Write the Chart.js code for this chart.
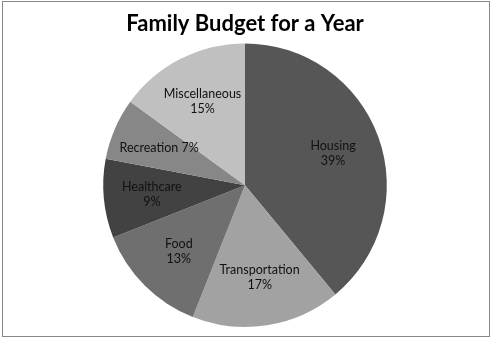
<!DOCTYPE html>
<html>
<head>
<meta charset="utf-8">
<script src="https://cdn.jsdelivr.net/npm/chart.js@4.4.0/dist/chart.umd.min.js"></script>
<style>
  body { margin: 0; background: #fff; }
  #frame { position: absolute; left: 2px; top: 1px; width: 486px; height: 334px; border: 1px solid #888; }
  #wrap { position: absolute; left: 0; top: 0; width: 492px; height: 339px; }
</style>
</head>
<body>
<div id="frame"></div>
<div id="wrap"><canvas id="chart" width="492" height="339"></canvas></div>
<script>
// budget shares, clockwise from 12 o'clock
const categories = ['Housing', 'Transportation', 'Food', 'Healthcare', 'Recreation', 'Miscellaneous'];
const shares = [39, 17, 13, 9, 7, 15];
const sliceColors = ['#565656', '#a2a2a2', '#6f6f6f', '#424242', '#878787', '#c0c0c0'];

// draws "Name\nNN%" labels inside each slice
const sliceLabels = {
  id: 'sliceLabels',
  afterDatasetsDraw(chart) {
    const ctx = chart.ctx;
    const meta = chart.getDatasetMeta(0);
    ctx.save();
    ctx.font = '12.5px Lato, "Open Sans", sans-serif';
    ctx.fillStyle = '#111';
    ctx.textAlign = 'center';
    ctx.textBaseline = 'middle';
    meta.data.forEach((arc, i) => {
      const mid = (arc.startAngle + arc.endAngle) / 2;
      const r = arc.outerRadius * 0.66;
      const x = arc.x + Math.cos(mid) * r;
      const y = arc.y + Math.sin(mid) * r;
      const pct = shares[i] + '%';
      if (shares[i] < 8) {
        ctx.fillText(categories[i] + ' ' + pct, x, y);
      } else {
        ctx.fillText(categories[i], x, y - 7.5);
        ctx.fillText(pct, x, y + 7.5);
      }
    });
    ctx.restore();
  }
};

new Chart(document.getElementById('chart'), {
  type: 'pie',
  data: {
    labels: categories,
    datasets: [{
      data: shares,
      backgroundColor: sliceColors,
      borderWidth: 0
    }]
  },
  options: {
    responsive: false,
    animation: false,
    layout: { padding: { left: 103, right: 105, top: 0, bottom: 12 } },
    plugins: {
      legend: { display: false },
      tooltip: { enabled: false },
      title: {
        display: true,
        text: 'Family Budget for a Year',
        color: '#000',
        font: { family: 'Lato, "Open Sans", sans-serif', size: 22, weight: 'bold' },
        padding: { top: 11, bottom: 6 }
      }
    }
  },
  plugins: [sliceLabels]
});
</script>
</body>
</html>
